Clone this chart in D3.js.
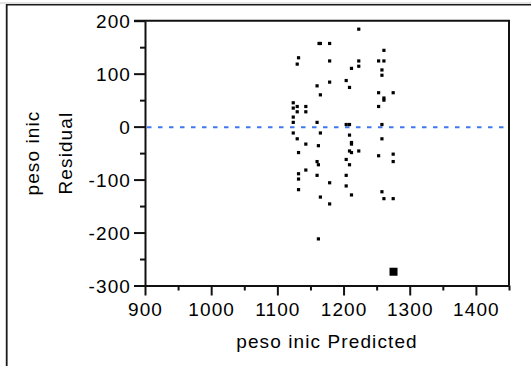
<!DOCTYPE html>
<html>
<head>
<meta charset="utf-8">
<script src="https://cdn.jsdelivr.net/npm/d3@7"></script>
<style>
body { margin: 0; background: #fff; }
text { font-family: "Liberation Sans", Arial, sans-serif; fill: #000; }
</style>
</head>
<body>
<div id="chart"></div>
<script>
// predicted vs residual
var predicted = [1223, 1163, 1165, 1179, 1132, 1130, 1179, 1223, 1223, 1212,
                 1253, 1261, 1261, 1258, 1258, 1179, 1204, 1209, 1160, 1165,
                 1253, 1275, 1261, 1261, 1253, 1124, 1124, 1130, 1130, 1143,
                 1143, 1124, 1124, 1160, 1204, 1209, 1258, 1124, 1130, 1143,
                 1165, 1209, 1258, 1162, 1212, 1212, 1132, 1209, 1212, 1223,
                 1253, 1275, 1275, 1160, 1162, 1204, 1209, 1143, 1132, 1132,
                 1160, 1204, 1179, 1204, 1132, 1258, 1261, 1275, 1165, 1212,
                 1179, 1162];
var residual = [184, 157, 157, 157, 130, 118, 124, 124, 114, 110,
                124, 124, 144, 107, 97, 84, 87, 74, 77, 60,
                64, 64, 54, 50, 38, 45, 35, 38, 28, 38,
                28, 18, 8, 8, 4, 4, 4, -12, -23, -33,
                -12, -16, -23, -36, -30, -33, -49, -46, -49, -46,
                -55, -52, -66, -66, -72, -62, -72, -82, -89, -99,
                -92, -92, -106, -112, -119, -123, -136, -136, -133, -129,
                -146, -212];
// highlighted point
var highlight = [{x: 1275.5, y: -274}];

var xTicks = [900, 1000, 1100, 1200, 1300, 1400];
var xMinor = [950, 1050, 1150, 1250, 1350, 1450];
var yTicks = [-300, -200, -100, 0, 100, 200];
var yMinor = [-250, -150, -50, 50, 150];

var W = 531, H = 366;
var plotL = 145, plotR = 509, plotT = 20.7, plotB = 285.5;

var svg = d3.select("#chart").append("svg")
    .attr("width", W).attr("height", H);

// outer frame (left + top edges)
svg.append("line").attr("x1", 0).attr("x2", W).attr("y1", 3).attr("y2", 3)
    .attr("stroke", "#c8c8c8").attr("stroke-width", 1);
svg.append("line").attr("x1", 6).attr("x2", W).attr("y1", 4.7).attr("y2", 4.7)
    .attr("stroke", "#1a1a1a").attr("stroke-width", 1.6);
svg.append("line").attr("x1", 6.7).attr("x2", 6.7).attr("y1", 4).attr("y2", H)
    .attr("stroke", "#1a1a1a").attr("stroke-width", 1.8);

var x = d3.scaleLinear().domain([900, 1450]).range([plotL, plotR]);
var y = d3.scaleLinear().domain([-300, 200]).range([plotB, plotT]);

var fs = 19;
var fmt = function(d) { return String(d); }; // plain hyphen minus

// minor ticks first
svg.append("g").attr("transform", "translate(0," + plotB + ")")
    .call(d3.axisBottom(x).tickValues(xMinor).tickSize(5).tickSizeOuter(0).tickFormat(""))
    .call(g => g.select(".domain").remove());
svg.append("g").attr("transform", "translate(" + plotL + ",0)")
    .call(d3.axisLeft(y).tickValues(yMinor).tickSize(5).tickSizeOuter(0).tickFormat(""))
    .call(g => g.select(".domain").remove());

var xAxis = svg.append("g").attr("transform", "translate(0," + plotB + ")")
    .call(d3.axisBottom(x).tickValues(xTicks).tickSize(10).tickSizeOuter(0)
        .tickPadding(7).tickFormat(fmt));
var yAxis = svg.append("g").attr("transform", "translate(" + plotL + ",0)")
    .call(d3.axisLeft(y).tickValues(yTicks).tickSize(11).tickSizeOuter(0)
        .tickPadding(3).tickFormat(fmt));

svg.selectAll(".tick line").attr("stroke", "#111").attr("stroke-width", 2);
svg.selectAll(".domain").attr("stroke", "#111").attr("stroke-width", 2);
svg.selectAll(".tick text")
    .style("font-family", "'Liberation Sans', Arial, sans-serif")
    .style("font-size", fs + "px")
    .style("letter-spacing", "1.1px")
    .attr("fill", "#000");
yAxis.selectAll(".tick text").attr("dy", "0.36em");

// top and right frame of the plot
svg.append("line").attr("x1", plotL - 11).attr("x2", plotR + 1).attr("y1", plotT).attr("y2", plotT)
    .attr("stroke", "#111").attr("stroke-width", 2);
svg.append("line").attr("x1", plotR).attr("x2", plotR).attr("y1", plotT).attr("y2", plotB)
    .attr("stroke", "#111").attr("stroke-width", 2);

// zero reference line
svg.append("line")
    .attr("x1", plotL + 2).attr("x2", plotR - 1)
    .attr("y1", y(0) + 0.6).attr("y2", y(0) + 0.6)
    .attr("stroke", "#3f77f0").attr("stroke-width", 2)
    .attr("stroke-dasharray", "4.5,6.5");

// points
var pts = predicted.map((p, i) => ({x: p, y: residual[i]}));
svg.append("g").selectAll("rect")
    .data(pts)
    .enter().append("rect")
    .attr("x", d => x(d.x) - 1.6)
    .attr("y", d => y(d.y) - 1.6)
    .attr("width", 3.2).attr("height", 3.2)
    .attr("fill", "#000");

svg.append("g").selectAll("rect")
    .data(highlight)
    .enter().append("rect")
    .attr("x", d => x(d.x) - 4)
    .attr("y", d => y(d.y) - 4)
    .attr("width", 8).attr("height", 8)
    .attr("fill", "#000");

// axis titles
svg.append("text")
    .attr("x", (plotL + plotR) / 2).attr("y", 348)
    .attr("text-anchor", "middle")
    .style("font-size", fs + "px").style("letter-spacing", "1.1px")
    .text("peso inic Predicted");

svg.append("text")
    .attr("transform", "translate(39," + ((plotT + plotB) / 2) + ") rotate(-90)")
    .attr("text-anchor", "middle")
    .style("font-size", fs + "px").style("letter-spacing", "1.1px")
    .text("peso inic");
svg.append("text")
    .attr("transform", "translate(72," + ((plotT + plotB) / 2) + ") rotate(-90)")
    .attr("text-anchor", "middle")
    .style("font-size", fs + "px").style("letter-spacing", "1.1px")
    .text("Residual");
</script>
</body>
</html>
